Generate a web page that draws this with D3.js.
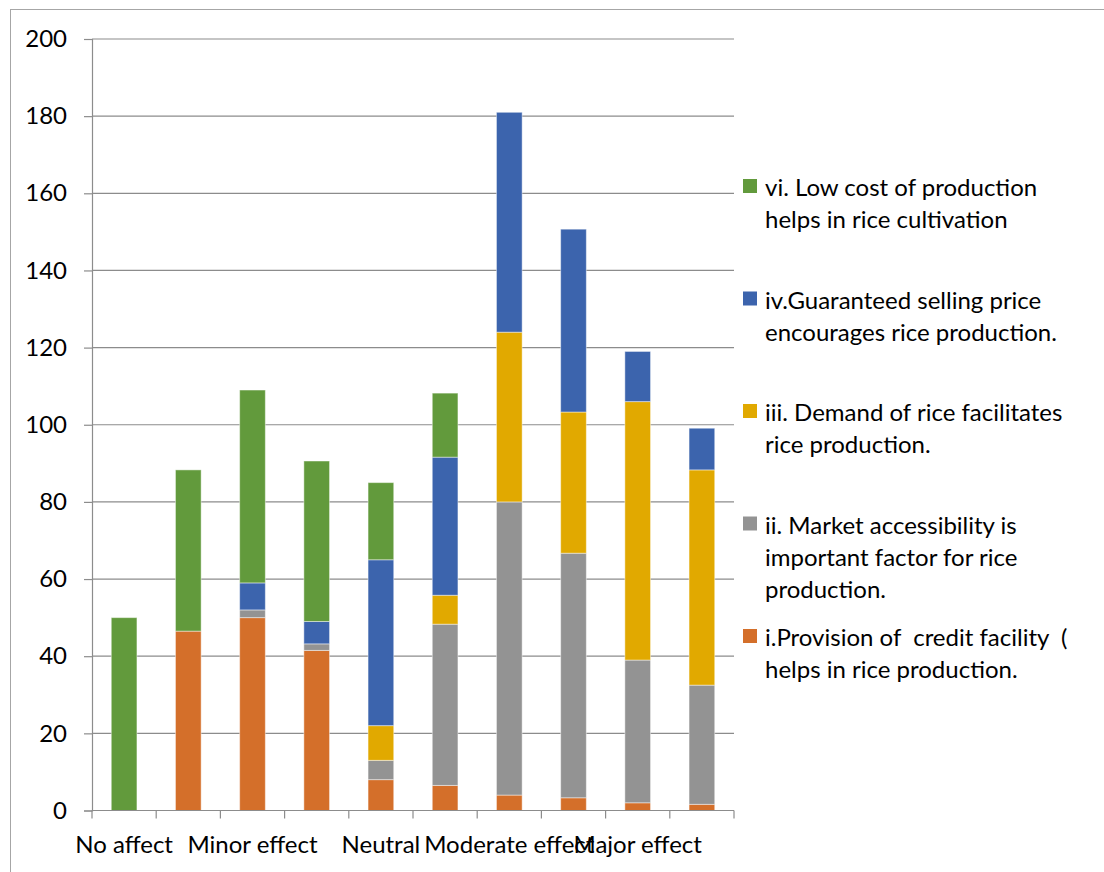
<!DOCTYPE html>
<html>
<head>
<meta charset="utf-8">
<script src="https://cdn.jsdelivr.net/npm/d3@7"></script>
<style>
  html, body { margin: 0; padding: 0; background: #fff; }
  svg { display: block; }
  text { font-family: Lato, "Open Sans", sans-serif; fill: #000; white-space: pre; }
</style>
</head>
<body>
<svg id="chart" width="1104" height="872"></svg>
<script>
// ---- data ----
const categories = ["c1","c2","c3","c4","c5","c6","c7","c8","c9","c10"];
const tickLabels = ["No affect","","Minor effect","","Neutral","","Moderate effect","","Major effect",""];
const seriesNames = [
  "i.Provision of  credit facility ( helps in rice production.",
  "ii. Market accessibility is important factor for rice production.",
  "iii. Demand of rice facilitates rice production.",
  "iv.Guaranteed selling price encourages rice production.",
  "vi. Low cost of production helps in rice cultivation"
];
const seriesI   = [0, 46.5, 50, 41.5, 8, 6.5, 4, 3.3, 2, 1.6];
const seriesII  = [0, 0, 2, 1.7, 5, 41.8, 76, 63.4, 37, 30.9];
const seriesIII = [0, 0, 0, 0, 9, 7.5, 44, 36.6, 67, 55.8];
const seriesIV  = [0, 0, 7, 5.8, 43, 35.8, 57, 47.4, 13, 10.8];
const seriesVI  = [50, 41.8, 50, 41.6, 20, 16.6, 0, 0, 0, 0];
const yTicks = [0, 20, 40, 60, 80, 100, 120, 140, 160, 180, 200];
const legendLines = [
  ["vi. Low cost of production", "helps in rice cultivation"],
  ["iv.Guaranteed selling price", "encourages rice production."],
  ["iii. Demand of rice facilitates", "rice production."],
  ["ii. Market accessibility is", "important factor for rice", "production."],
  ["i.Provision of  credit facility  (", "helps in rice production."]
];
const colors = ["#D46F2A", "#939393", "#E1A900", "#3C64AD", "#629A3C"];

(function () {
const FS = 24;
// ---- build table ----
const keys = ["i","ii","iii","iv","vi"];
const allSeries = [seriesI, seriesII, seriesIII, seriesIV, seriesVI];
const table = categories.map((c, idx) => {
  const row = { cat: c };
  keys.forEach((k, j) => row[k] = allSeries[j][idx]);
  return row;
});
const stacked = d3.stack().keys(keys)(table);
const color = d3.scaleOrdinal().domain(keys).range(colors);

const svg = d3.select("#chart");
const mLeft = 92, mRight = 734, mTop = 39, mBottom = 810.5;

const x = d3.scaleBand().domain(categories).range([mLeft, mRight]).paddingInner(0.6).paddingOuter(0.3);
const y = d3.scaleLinear().domain([0, 200]).range([mBottom, mTop]);

// chart border
svg.append("rect").attr("x", 10.5).attr("y", 9.5).attr("width", 1200).attr("height", 1000)
  .attr("fill", "none").attr("stroke", "#a6a6a6").attr("stroke-width", 1);

// gridlines
svg.append("g").selectAll("line").data(yTicks.filter(t => t > 0)).join("line")
  .attr("x1", mLeft).attr("x2", mRight)
  .attr("y1", d => y(d)).attr("y2", d => y(d))
  .attr("stroke", "#8c8c8c").attr("stroke-width", 1.2);

// y axis
const yAxis = svg.append("g").attr("transform", `translate(${mLeft},0)`)
  .call(d3.axisLeft(y).tickValues(yTicks).tickSize(8).tickPadding(17));
yAxis.select(".domain").attr("stroke", "#8c8c8c").attr("stroke-width", 1.2);
yAxis.selectAll(".tick line").attr("stroke", "#8c8c8c").attr("stroke-width", 1.2);
yAxis.selectAll(".tick text").attr("font-size", FS).attr("font-family", "Lato, 'Open Sans', sans-serif").attr("fill", "#000");

// bars
svg.append("g").selectAll("g").data(stacked).join("g")
  .attr("fill", d => color(d.key))
  .selectAll("rect").data(d => d).join("rect")
  .attr("x", d => x(d.data.cat))
  .attr("width", x.bandwidth())
  .attr("y", d => y(d[1]))
  .attr("height", d => Math.max(0, y(d[0]) - y(d[1])))
  .attr("stroke", d => (d[1] - d[0]) > 0 ? "rgba(255,255,255,0.45)" : "none")
  .attr("stroke-width", 1);

// x axis (ticks at category boundaries)
const boundaries = d3.range(categories.length + 1).map(i => mLeft + i * (mRight - mLeft) / categories.length);
const xg = svg.append("g");
xg.append("line").attr("x1", mLeft).attr("x2", mRight).attr("y1", mBottom).attr("y2", mBottom)
  .attr("stroke", "#8c8c8c").attr("stroke-width", 1.2);
xg.selectAll("line.tk").data(boundaries).join("line").attr("class", "tk")
  .attr("x1", d => d).attr("x2", d => d).attr("y1", mBottom).attr("y2", mBottom + 8)
  .attr("stroke", "#8c8c8c").attr("stroke-width", 1.2);
xg.selectAll("text").data(categories).join("text")
  .attr("x", d => x(d) + x.bandwidth() / 2)
  .attr("y", 853)
  .attr("text-anchor", "middle")
  .attr("font-size", FS)
  .text((d, i) => tickLabels[i]);

// legend
const legendKeys = ["vi","iv","iii","ii","i"];
const lg = svg.append("g");
legendKeys.forEach((k, i) => {
  const cy = 186 + i * 112.5;
  lg.append("rect").attr("x", 743).attr("y", cy - 7).attr("width", 14).attr("height", 14).attr("fill", color(k));
  const t = lg.append("text").attr("x", 765).attr("y", cy).attr("font-size", FS).attr("dominant-baseline", "central");
  legendLines[i].forEach((ln, j) => {
    t.append("tspan").attr("x", 765).attr("dy", j === 0 ? 0 : 32).text(ln);
  });
});
})();
</script>
</body>
</html>
